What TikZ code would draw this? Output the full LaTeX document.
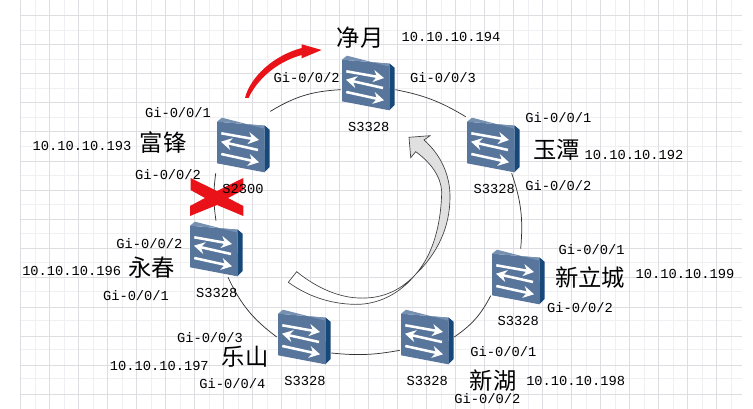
\documentclass[tikz,border=0pt]{standalone}
\usepackage{fontspec}
\usetikzlibrary{arrows.meta}
\setmonofont{Liberation Mono}
\newfontfamily\cjk{Noto Sans CJK SC}
\definecolor{SwitchFront}{RGB}{88,118,156}
\definecolor{SwitchTop}{RGB}{118,144,178}
\definecolor{SwitchSide}{RGB}{22,72,122}
\definecolor{GridMajor}{RGB}{222,222,226}
\definecolor{GridMinor}{RGB}{240,240,243}
\definecolor{CrossRed}{RGB}{232,18,24}

\begin{document}
\begin{tikzpicture}[
          x=0.75pt, y=-0.75pt,
          switchbox/.style={rectangle, inner sep=0pt, minimum width=40.5pt, minimum height=42pt,
            path picture={
              \begin{scope}[shift={(path picture bounding box.center)}]
                \fill [SwitchFront] (-26,-23.3) -- (21.7,-19.3) -- (21.3,27.3) -- (-26,18.3) -- cycle;
                \fill [SwitchTop] (-26,-23.3) -- (-21,-27.3) -- (26.7,-15) -- (21.7,-19.3) -- cycle;
                \fill [SwitchSide] (21.7,-19.3) -- (26.7,-15) -- (26.7,22) -- (21.3,27.3) -- cycle;
                \draw [flow] (-21.7,-11.7) -- (16,-5);
                \draw [flow] (15,5) -- (-22,-3.3);
                \draw [flow] (-21.7,9) -- (16,17.3);
              \end{scope}
            }},
          flow/.style={-{Stealth[length=8pt,width=9pt]}, white, line width=1.9pt},
          ring/.style={draw=black!80, line width=0.55pt},
          tag/.style={inner sep=0pt, font=\ttfamily\fontsize{10.3}{12}\selectfont},
          place/.style={inner sep=0pt, font=\cjk\fontsize{17.5}{20}\selectfont}
        ]
          \useasboundingbox (0,0) rectangle (753,409);
          \fill [white] (0,0) rectangle (753,409);

          % grid paper
          \foreach \gx in {35,64,...,745} \draw [GridMinor, line width=0.5pt] (\gx,0) -- (\gx,409);
          \foreach \gy in {30,59,...,400} \draw [GridMinor, line width=0.5pt] (20,\gy) -- (742,\gy);
          \foreach \gx in {20.5,49.5,...,745} \draw [GridMajor, line width=0.5pt] (\gx,0) -- (\gx,409);
          \foreach \gy in {15,44.2,...,400} \draw [GridMajor, line width=0.5pt] (20,\gy) -- (742,\gy);

          % switches
          \node (jingyue) [switchbox] at (368,83) {};
          \node (yutan) [switchbox] at (493,145) {};
          \node (xinlicheng) [switchbox] at (518,277) {};
          \node (xinhu) [switchbox] at (427,337) {};
          \node (leshan) [switchbox] at (304,337) {};
          \node (yongchun) [switchbox] at (216,249) {};
          \node (fufeng) [switchbox] at (243,145) {};

          % ring
          \draw [ring] ([yshift=4pt]fufeng.north east) to [bend left=14] ([yshift=-5pt]jingyue.west);
          \draw [ring] ([yshift=-5pt]jingyue.east) to [bend left=10] (yutan.north west);
          \draw [ring] ([xshift=14pt]yutan.south) to [bend left=12] ([xshift=2pt]xinlicheng.north);
          \draw [ring] ([yshift=-14pt]xinlicheng.west) to [bend left=14] (xinhu.east);
          \draw [ring] ([yshift=-10pt]xinhu.west) to [bend left=8] ([yshift=-12pt]leshan.east);
          \draw [ring] (leshan.west) to [bend left=14] ([xshift=9pt]yongchun.south);
          \draw [ring] (yongchun.north) to [bend left=8] (fufeng.south west);

          % turning arrow
          \fill [white] (415,275) .. controls (399,292) and (380,299) .. (358.3,298)
            .. controls (335,297) and (313,285) .. (296.7,271.7) -- (288.3,282.3)
            .. controls (310,298) and (335,305) .. (360,304.3)
            .. controls (382,303) and (401,292) .. (415,275) -- cycle;
          \draw [black!75, line width=0.5pt] (415,275) .. controls (399,292) and (380,299) .. (358.3,298)
            .. controls (335,297) and (313,285) .. (296.7,271.7) -- (288.3,282.3)
            .. controls (310,298) and (335,305) .. (360,304.3)
            .. controls (382,303) and (401,292) .. (415,275);
          \draw [black!75, line width=0.5pt, fill=black!12] (415,275)
            .. controls (433,255) and (441,225) .. (441.7,191.7)
            .. controls (441,176) and (430,162) .. (415.7,151.7) -- (410.7,157.7) -- (409,137.3) -- (430,135.7) -- (424,140)
            .. controls (441,155) and (450,175) .. (450,196.7)
            .. controls (450,228) and (437,254) .. (415,275) -- cycle;

          % red arrow
          \fill [CrossRed] (245,98) .. controls (250,78) and (272,56) .. (301.7,48) -- (301.7,44.3) -- (321.7,50) -- (301.7,58.3) -- (301.7,55)
            .. controls (276,62) and (257,80) .. (248.5,98) -- cycle;

          % red cross
          \fill [CrossRed] (190.5,178) -- (217,191) -- (243.3,178) -- (243.3,190) -- (228,198) -- (243.3,206) -- (243.3,216) -- (217,205) -- (190,216) -- (190,206) -- (205,198) -- (190.5,190) -- cycle;

          % names
          \node (jingyueName) [place] at (360,38) {净月};
          \node (fufengName) [place] at (163,143) {富锋};
          \node (yutanName) [place] at (556.7,150) {玉潭};
          \node (xinlichengName) [place] at (590,277.3) {新立城};
          \node (xinhuName) [place] at (493.3,381) {新湖};
          \node (leshanName) [place] at (245,357) {乐山};
          \node (yongchunName) [place] at (151.7,268) {永春};

          % addresses
          \node (jingyueIp) [tag] at (451,37) {10.10.10.194};
          \node (fufengIp) [tag] at (82,146) {10.10.10.193};
          \node (yutanIp) [tag] at (634,155) {10.10.10.192};
          \node (xinlichengIp) [tag] at (685,273.7) {10.10.10.199};
          \node (xinhuIp) [tag] at (575.7,381) {10.10.10.198};
          \node (leshanIp) [tag] at (159.3,366) {10.10.10.197};
          \node (yongchunIp) [tag] at (71.7,270.7) {10.10.10.196};

          % models
          \node (jingyueModel) [tag] at (368.7,127) {S3328};
          \node (fufengModel) [tag] at (243,189) {S2300};
          \node (yutanModel) [tag] at (494.3,189) {S3328};
          \node (xinlichengModel) [tag] at (518.3,320.7) {S3328};
          \node (xinhuModel) [tag] at (427.3,381) {S3328};
          \node (leshanModel) [tag] at (305,381) {S3328};
          \node (yongchunModel) [tag] at (216.7,293) {S3328};

          % ports
          \node (jingyueA) [tag] at (306.7,77.7) {Gi-0/0/2};
          \node (jingyueB) [tag] at (443,78) {Gi-0/0/3};
          \node (fufengA) [tag] at (178,113) {Gi-0/0/1};
          \node (fufengB) [tag] at (168,175) {Gi-0/0/2};
          \node (yutanA) [tag] at (558.3,117.3) {Gi-0/0/1};
          \node (yutanB) [tag] at (558.3,185.7) {Gi-0/0/2};
          \node (xinlichengA) [tag] at (591.7,249.3) {Gi-0/0/1};
          \node (xinlichengB) [tag] at (580,307.3) {Gi-0/0/2};
          \node (xinhuA) [tag] at (503.3,351.7) {Gi-0/0/1};
          \node (xinhuB) [tag] at (487.3,399) {Gi-0/0/2};
          \node (leshanA) [tag] at (210,337.3) {Gi-0/0/3};
          \node (leshanB) [tag] at (232.3,384) {Gi-0/0/4};
          \node (yongchunA) [tag] at (149.3,243.3) {Gi-0/0/2};
          \node (yongchunB) [tag] at (136,296) {Gi-0/0/1};
        \end{tikzpicture}
\end{document}
